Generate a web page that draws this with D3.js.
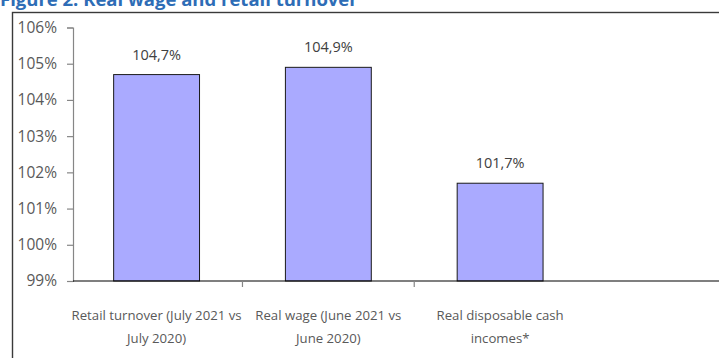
<!DOCTYPE html>
<html>
<head>
<meta charset="utf-8">
<script src="https://cdn.jsdelivr.net/npm/d3@7"></script>
<style>
  html, body { margin: 0; padding: 0; background: #fff; }
  svg { display: block; }
</style>
</head>
<body>
<script>
// Real wage and retail turnover, index vs same period of previous year (%)
const categories = [
  ["Retail turnover (July 2021 vs", "July 2020)"],
  ["Real wage (June 2021 vs", "June 2020)"],
  ["Real disposable cash", "incomes*"]
];
const values = [104.7, 104.9, 101.7];
const valueLabels = ["104,7%", "104,9%", "101,7%"];
const yTicks = [99, 100, 101, 102, 103, 104, 105, 106];
const title = "Figure 2. Real wage and retail turnover";

const W = 719, H = 358;
const font = "'Open Sans', 'Noto Sans', sans-serif";

const svg = d3.select("body").append("svg")
  .attr("width", W).attr("height", H);

// Title (its upper part runs above the top edge)
svg.append("text")
  .attr("x", 0).attr("y", 6)
  .attr("font-family", font).attr("font-weight", 700)
  .attr("font-size", 18.5).attr("fill", "#2E6DB6")
  .text(title);

// Chart frame
svg.append("rect")
  .attr("x", 12.5).attr("y", 12.5)
  .attr("width", W + 20).attr("height", H + 20)
  .attr("fill", "none").attr("stroke", "#3a3a3a").attr("stroke-width", 1.4);

const axisX = 73;
const y = d3.scaleLinear().domain([99, 106]).range([281, 27.5]);
const x = d3.scaleBand().domain(d3.range(categories.length))
  .range([70.7, 586]).paddingInner(0.5).paddingOuter(0.25);

// Bars
svg.append("g").selectAll("rect").data(values).join("rect")
  .attr("x", (d, i) => x(i))
  .attr("y", d => y(d))
  .attr("width", x.bandwidth())
  .attr("height", d => y(99) - y(d))
  .attr("fill", "#AAAAFF")
  .attr("stroke", "#1a1a1a").attr("stroke-width", 1);

// Value labels
svg.append("g").selectAll("text").data(values).join("text")
  .attr("x", (d, i) => x(i) + x.bandwidth() / 2)
  .attr("y", d => y(d) - 15)
  .attr("text-anchor", "middle")
  .attr("font-family", font).attr("font-size", 14.5).attr("fill", "#404040")
  .text((d, i) => valueLabels[i]);

// Y axis
const yAxis = d3.axisLeft(y).tickValues(yTicks)
  .tickFormat(d => d + "%").tickSize(6).tickPadding(10);
const gy = svg.append("g").attr("transform", `translate(${axisX},0)`).call(yAxis);
gy.select(".domain").attr("stroke", "#868686").attr("stroke-width", 1.2);
gy.selectAll(".tick line").attr("stroke", "#868686").attr("stroke-width", 1.2);
gy.selectAll(".tick text")
  .attr("font-family", font).attr("font-size", 15.5).attr("fill", "#595959");

// X axis line and category boundary ticks
const step = x.step();
svg.append("line")
  .attr("x1", axisX).attr("x2", W)
  .attr("y1", y(99)).attr("y2", y(99))
  .attr("stroke", "#000").attr("stroke-width", 1.2);
const bounds = d3.range(1, categories.length).map(i => x(i) - step * x.paddingInner() / 2);
svg.append("g").selectAll("line").data(bounds).join("line")
  .attr("x1", d => d).attr("x2", d => d)
  .attr("y1", y(99)).attr("y2", y(99) + 6)
  .attr("stroke", "#868686").attr("stroke-width", 1.2);

// Category labels (two lines each)
const cat = svg.append("g").selectAll("text").data(categories).join("text")
  .attr("text-anchor", "middle")
  .attr("font-family", font).attr("font-size", 13.2).attr("fill", "#595959");
cat.selectAll("tspan").data((d, i) => d.map(s => ({ s, i }))).join("tspan")
  .attr("x", d => x(d.i) + x.bandwidth() / 2)
  .attr("y", (d, j) => 320 + j * 23)
  .text(d => d.s);
</script>
</body>
</html>
